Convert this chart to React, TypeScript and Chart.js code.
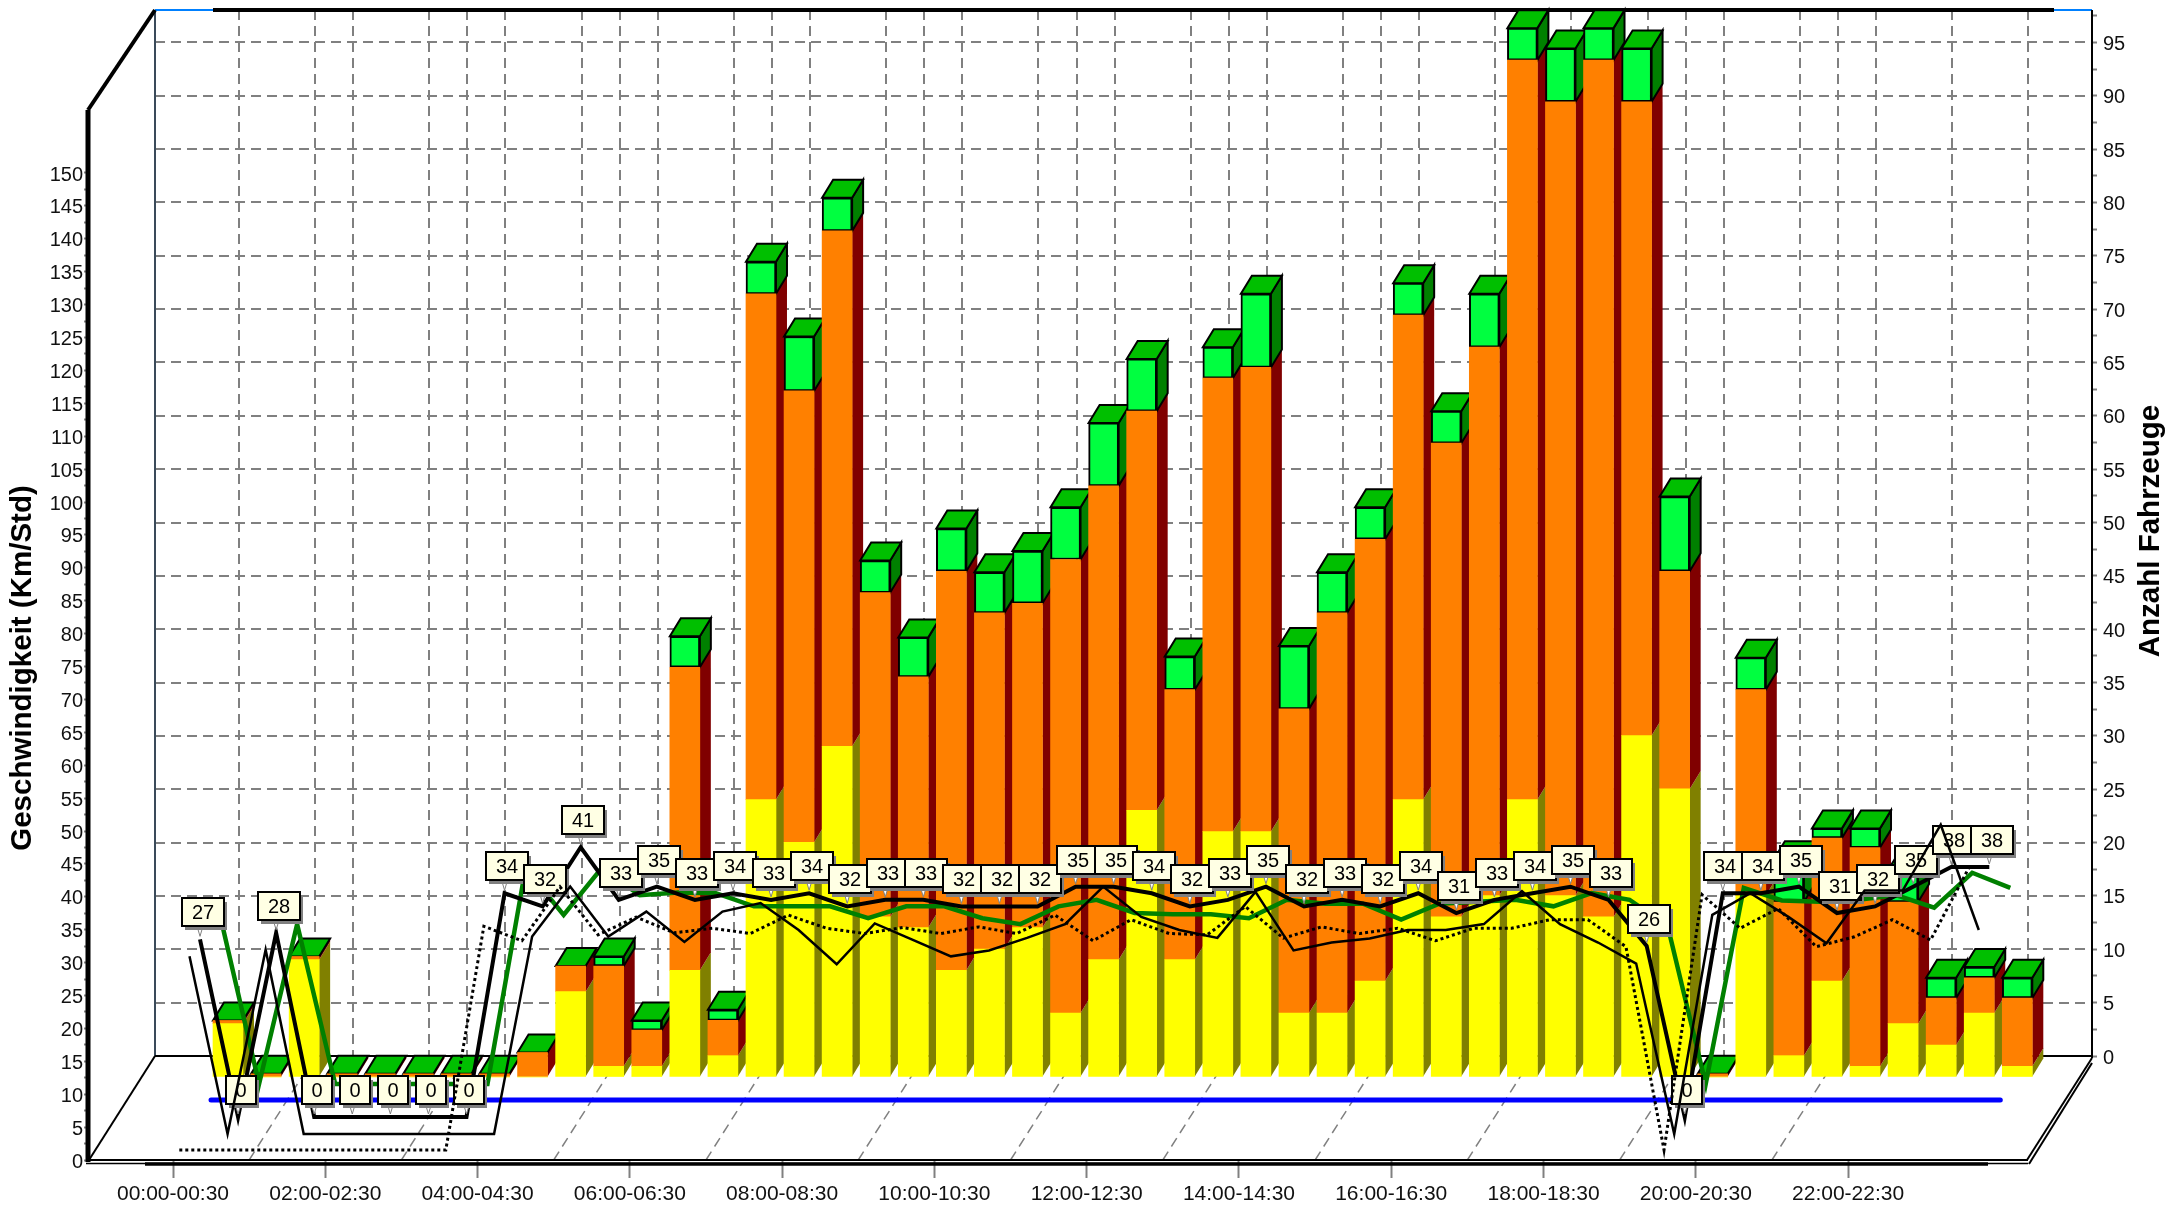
import { useEffect, useRef } from 'react';
import { Chart, registerables, CategoryScale } from 'chart.js';

Chart.register(...registerables);

const timeSlots = [
  '00:00-00:30','00:30-01:00','01:00-01:30','01:30-02:00','02:00-02:30','02:30-03:00','03:00-03:30','03:30-04:00',
  '04:00-04:30','04:30-05:00','05:00-05:30','05:30-06:00','06:00-06:30','06:30-07:00','07:00-07:30','07:30-08:00',
  '08:00-08:30','08:30-09:00','09:00-09:30','09:30-10:00','10:00-10:30','10:30-11:00','11:00-11:30','11:30-12:00',
  '12:00-12:30','12:30-13:00','13:00-13:30','13:30-14:00','14:00-14:30','14:30-15:00','15:00-15:30','15:30-16:00',
  '16:00-16:30','16:30-17:00','17:00-17:30','17:30-18:00','18:00-18:30','18:30-19:00','19:00-19:30','19:30-20:00',
  '20:00-20:30','20:30-21:00','21:00-21:30','21:30-22:00','22:00-22:30','22:30-23:00','23:00-23:30','23:30-24:00',
];
const labelledSlots = [0, 4, 8, 12, 16, 20, 24, 28, 32, 36, 40, 44];
const wallGridSlots = [0,2,3,5,6,7,9,10,11,13,14,15,17,18,19,21,22,23,25,26,27,29,30,31,33,34,35,37,38,39,41,42,43,45,47];
const floorGridSlots = [2,6,10,14,18,22,26,30,34,38,42];

const speedTicks = [
  0,2.5,5,7.5,10,12.5,15,17.5,20,22.5,25,27.5,30,32.5,35,37.5,40,42.5,45,47.5,50,52.5,55,57.5,60,62.5,65,67.5,70,72.5,
  75,77.5,80,82.5,85,87.5,90,92.5,95,97.5,100,102.5,105,107.5,110,112.5,115,117.5,120,122.5,125,127.5,130,132.5,135,137.5,
  140,142.5,145,147.5,150,
];
const countTicks = [
  0,2.5,5,7.5,10,12.5,15,17.5,20,22.5,25,27.5,30,32.5,35,37.5,40,42.5,45,47.5,50,52.5,55,57.5,60,62.5,65,67.5,70,72.5,
  75,77.5,80,82.5,85,87.5,90,92.5,95,97.5,
];
const countGridLines = [5,10,15,20,25,30,35,40,45,50,55,60,65,70,75,80,85,90,95];

// Anzahl Fahrzeuge, stacked
const yellowCounts = [5,0,11,0,0,0,0,0,0,8,1,1,10,2,26,22,31,15,14,10,12,14,6,11,25,11,23,23,6,6,9,26,15,17,26,17,15,32,27,0,17,2,9,1,5,3,6,1];
const orangeCounts = [0.3,0.3,0.3,0.3,0.3,0.3,0.3,0.3,2.3,2.4,9.4,3.4,28.4,3.3,47.4,42.3,48.3,30.4,23.5,37.4,31.5,30.4,42.5,44.4,37.4,25.3,42.5,43.5,28.5,37.5,41.4,45.4,44.4,51.4,69.3,74.4,80.3,59.4,20.4,0.3,19.3,14.4,13.4,20.5,11.4,4.4,3.3,6.4];
const greenCounts = [0,0,0,0,0,0,0,0,0,0,0.9,0.9,2.9,1,3,5.1,3.1,3,3.7,4,3.8,4.9,4.9,5.9,4.9,3.1,2.9,6.9,5.9,3.8,3,3,3,5,3,5,3,5,7,0,3,4,0.9,1.8,3,1.9,1,1.9];

// Geschwindigkeit (Km/Std), four lines and a zero line
const speedLabelled = [27,0,28,0,0,0,0,0,34,32,41,33,35,33,34,33,34,32,33,33,32,32,32,35,35,34,32,33,35,32,33,32,34,31,33,34,35,33,26,0,34,34,35,31,32,35,38,38];
const speedThin = [27,0,28,0,0,0,0,0,0,30,37.6,30,33.8,29.2,33.8,35.1,31,25.8,32,29.5,27,27.9,29.8,31.9,37.6,33,31,29.8,36.8,27.9,29.1,29.7,31,31,31.9,36.9,31.9,29.1,25.9,0,33.3,36.6,33,29,37,37,47,31];
const speedDotted = [0,0,0,0,0,0,0,0,34,31.8,40,32.7,35.4,33,33.7,32.9,35.7,33.7,32.9,33.8,32.9,33.9,32.9,35.7,31.8,35,32.9,32.7,37,32.2,33.9,32.9,33.7,31.8,33.7,33.7,35,35,30.9,0,38.8,33.7,36.7,30.9,32.4,35,31.9,42.8];
const speedGreen = [25,0,24.3,0,0,0,0,0,32.8,25.7,32.8,28.7,29.1,29,27,27,27,25.2,27,27,25.2,24.3,27,28,26,25.8,25.8,25.2,28,27.4,27.4,25,27.4,27.7,28,27,29,28,24,0,29.8,27.9,27.7,28,28.7,26.8,32.1,29.8];
const speedBlue = [0,0,0,0,0,0,0,0,0,0,0,0,0,0,0,0,0,0,0,0,0,0,0,0,0,0,0,0,0,0,0,0,0,0,0,0,0,0,0,0,0,0,0,0,0,0,0,0];

const FONT = '"Liberation Sans", Arial, sans-serif';
const SLOT_W = 38.07;
const FIRST_SLOT_X = 173;
const FRONT_LEFT = 89;
const BACK_RIGHT = 2092;
const WALL_DX = 66;
const FLOOR_FRONT = 1160;
const FLOOR_BACK = 1056;
const TOP = 10;
const SPEED_PX = 6.58;
const COUNT_PX = 10.67;
const BAR_DX = 11;
const BAR_DY = 18;
const GREY = '#808080';

class SlotScale extends CategoryScale {
  static id = 'slot3d';
  static defaults = CategoryScale.defaults;
  buildTicks() {
    const ticks = super.buildTicks();
    (this as any)._startValue = (FRONT_LEFT - FIRST_SLOT_X) / SLOT_W;
    (this as any)._valueRange = (BACK_RIGHT - FRONT_LEFT) / SLOT_W;
    return ticks.filter((t: any) => labelledSlots.includes(t.value));
  }
}
Chart.register(SlotScale as any);

function poly(ctx: CanvasRenderingContext2D, pts: number[][]) {
  ctx.beginPath();
  pts.forEach((p, i) => (i ? ctx.lineTo(p[0], p[1]) : ctx.moveTo(p[0], p[1])));
  ctx.closePath();
}
function seg(ctx: CanvasRenderingContext2D, x1: number, y1: number, x2: number, y2: number, color: string, w: number, dash: number[] = []) {
  ctx.save();
  ctx.strokeStyle = color;
  ctx.lineWidth = w;
  ctx.setLineDash(dash);
  ctx.beginPath();
  ctx.moveTo(x1, y1);
  ctx.lineTo(x2, y2);
  ctx.stroke();
  ctx.restore();
}

const scene3d = {
  id: 'scene3d',
  beforeDatasetsDraw(chart: any) {
    const { ctx } = chart;
    const x = chart.scales.x;
    const yc = chart.scales.yCount;
    // back wall grid
    countGridLines.forEach((v) => {
      const py = Math.round(yc.getPixelForValue(v));
      seg(ctx, FRONT_LEFT + WALL_DX, py, BACK_RIGHT, py, GREY, 2, [10, 6]);
    });
    wallGridSlots.forEach((i) => {
      const px = Math.round(x.getPixelForValue(i) + WALL_DX);
      seg(ctx, px, TOP, px, FLOOR_BACK, GREY, 2, [10, 6]);
    });
    floorGridSlots.forEach((i) => {
      const px = x.getPixelForValue(i);
      seg(ctx, px, FLOOR_FRONT, px + WALL_DX, FLOOR_BACK, GREY, 1.5, [10, 6]);
    });
    // frame
    seg(ctx, 155, TOP, 155, FLOOR_BACK, '#3a4a5a', 2);
    seg(ctx, 155, FLOOR_BACK, BACK_RIGHT, FLOOR_BACK, '#000', 2);
    seg(ctx, FRONT_LEFT, FLOOR_FRONT, 155, FLOOR_BACK, '#000', 2);
    seg(ctx, 155, TOP, BACK_RIGHT, TOP, '#0080ff', 2);
    seg(ctx, 213, TOP, 2054, TOP, '#000', 4);
    seg(ctx, 88, 110, 155, TOP, '#000', 4);
    seg(ctx, 88, 110, 88, 1162, '#000', 5);
    seg(ctx, BACK_RIGHT, TOP, BACK_RIGHT, FLOOR_BACK + 2, '#000', 2);
    seg(ctx, 86, FLOOR_FRONT, 2028, FLOOR_FRONT, '#000', 2);
    seg(ctx, 86, 1163.5, 2028, 1163.5, '#000', 1.5);
    seg(ctx, 145, 1164, 1988, 1164, '#000', 3.5);
    seg(ctx, 2027, FLOOR_FRONT, BACK_RIGHT, FLOOR_BACK + 2, '#000', 2);
    seg(ctx, 2029, 1164, BACK_RIGHT, 1063, '#000', 2);

    // bar side and top faces, behind all bar fronts
    chart.data.datasets.forEach((ds: any, di: number) => {
      if (!ds.sideColor) return;
      const meta = chart.getDatasetMeta(di);
      ctx.save();
      ctx.translate(ds.layer[0], ds.layer[1]);
      meta.data.forEach((bar: any) => {
        const { x: bx, y, base, width } = bar.getProps(['x', 'y', 'base', 'width'], true);
        const l = bx - width / 2;
        const r = bx + width / 2;
        const pts = [[r, base], [r + BAR_DX, base - BAR_DY], [r + BAR_DX, y - BAR_DY], [r, y]];
        ctx.fillStyle = ds.sideColor;
        poly(ctx, pts);
        ctx.fill();
        if (ds.topColor) {
          if (base - y > 0.5) {
            ctx.strokeStyle = '#000';
            ctx.lineWidth = 2;
            ctx.stroke();
          }
          ctx.fillStyle = ds.topColor;
          poly(ctx, [[l, y], [r, y], [r + BAR_DX, y - BAR_DY], [l + BAR_DX, y - BAR_DY]]);
          ctx.fill();
          ctx.strokeStyle = '#000';
          ctx.lineWidth = 2;
          ctx.stroke();
        }
      });
      ctx.restore();
    });
  },
  beforeDatasetDraw(chart: any, args: any) {
    const ds = chart.data.datasets[args.index];
    chart.ctx.save();
    chart.ctx.translate(ds.layer[0], ds.layer[1]);
  },
  afterDatasetDraw(chart: any, args: any) {
    const ds = chart.data.datasets[args.index];
    const ctx = chart.ctx;
    if (ds.valueBoxes) {
      args.meta.data.forEach((pt: any, i: number) => {
        const txt = String(ds.data[i]);
        const w = txt.length > 1 ? 42 : 30;
        const h = 28;
        const left = Math.round(pt.x + 2.5 - w / 2);
        const bottom = Math.round(pt.y - 13);
        ctx.fillStyle = '#fff';
        ctx.strokeStyle = GREY;
        ctx.lineWidth = 1;
        poly(ctx, [[pt.x - 3, bottom], [pt.x + 3, bottom], [pt.x, pt.y - 3]]);
        ctx.fill();
        ctx.stroke();
        ctx.fillStyle = GREY;
        ctx.fillRect(left + 3, bottom - h + 4, w, h);
        ctx.fillStyle = '#ffffe4';
        ctx.fillRect(left, bottom - h, w, h);
        ctx.strokeStyle = '#000';
        ctx.lineWidth = 2;
        ctx.strokeRect(left, bottom - h, w, h);
        ctx.fillStyle = '#000';
        ctx.font = `20px ${FONT}`;
        ctx.textAlign = 'center';
        ctx.textBaseline = 'middle';
        ctx.fillText(txt, left + w / 2, bottom - h / 2 + 1);
      });
    }
    ctx.restore();
  },
  afterDraw(chart: any) {
    const { ctx } = chart;
    const title = (text: string, x: number, y: number) => {
      ctx.save();
      ctx.translate(x, y);
      ctx.rotate(-Math.PI / 2);
      ctx.fillStyle = '#000';
      ctx.font = `bold 29.5px ${FONT}`;
      ctx.textAlign = 'center';
      ctx.textBaseline = 'middle';
      ctx.fillText(text, 0, 0);
      ctx.restore();
    };
    title('Geschwindigkeit (Km/Std)', 23, 668);
    title('Anzahl Fahrzeuge', 2151, 531);
  },
};

export default function App() {
  const ref = useRef<HTMLCanvasElement>(null);
  useEffect(() => {
    const barLayer = [55, 21];
    const lineBase = { type: 'line', yAxisID: 'ySpeed', pointRadius: 0, tension: 0, fill: false, clip: false };
    const barBase = { type: 'bar', yAxisID: 'yCount', barThickness: 30, borderSkipped: false, clip: false, layer: barLayer, stack: 'cars' };
    const noPad = (s: any) => { s.paddingTop = 0; s.paddingBottom = 0; s.paddingLeft = 0; s.paddingRight = 0; };
    const chart = new Chart(ref.current!, {
      data: {
        labels: timeSlots,
        datasets: [
          { ...barBase, label: 'yellow', data: yellowCounts, backgroundColor: '#ffff00', borderWidth: 0, sideColor: '#808000', order: 6 },
          { ...barBase, label: 'orange', data: orangeCounts, backgroundColor: '#ff8000', borderWidth: 0, sideColor: '#800000', order: 7 },
          { ...barBase, label: 'green', data: greenCounts, backgroundColor: '#00ff40', borderColor: '#000', borderWidth: 2, sideColor: '#008000', topColor: '#00bf00', order: 8 },
          { ...lineBase, label: 'speed green', data: speedGreen, borderColor: '#008000', borderWidth: 4.5, layer: [48, -76], order: 5 },
          { ...lineBase, label: 'zero', data: speedBlue, borderColor: '#0000ff', borderWidth: 5, borderCapStyle: 'round', layer: [38, -60], order: 4 },
          { ...lineBase, label: 'speed', data: speedLabelled, borderColor: '#000', borderWidth: 4, layer: [27, -43], valueBoxes: true, order: 3 },
          { ...lineBase, label: 'speed thin', data: speedThin, borderColor: '#000', borderWidth: 2.5, layer: [16.5, -26], order: 2 },
          { ...lineBase, label: 'speed dotted', data: speedDotted, borderColor: '#000', borderWidth: 3, borderDash: [3, 3], layer: [6.3, -10], order: 1 },
        ],
      } as any,
      options: {
        responsive: false,
        animation: false,
        events: [],
        layout: { padding: { top: TOP, left: 0, right: 0, bottom: 0 } },
        plugins: { legend: { display: false }, tooltip: { enabled: false }, title: { display: false } },
        scales: {
          x: {
            type: 'slot3d',
            offset: false,
            stacked: true,
            border: { display: false },
            grid: { display: true, drawOnChartArea: false, drawTicks: true, tickLength: 18, tickWidth: 2, tickColor: GREY, offset: false },
            ticks: { autoSkip: false, maxRotation: 0, minRotation: 0, padding: 4, color: '#111', font: { family: FONT, size: 21 } },
            afterFit: (s: any) => { s.height = 1215 - FLOOR_FRONT; noPad(s); },
          },
          ySpeed: {
            type: 'linear',
            position: 'left',
            min: 0,
            max: (FLOOR_FRONT - TOP) / SPEED_PX,
            border: { display: false },
            grid: { display: true, drawOnChartArea: false, drawTicks: true, tickLength: 5, tickWidth: 2, tickColor: GREY },
            ticks: { autoSkip: false, padding: 1, labelOffset: 2, color: '#111', font: { family: FONT, size: 20 }, callback: (v: any) => (v % 5 === 0 ? String(v) : '') },
            afterBuildTicks: (s: any) => { s.ticks = speedTicks.map((value) => ({ value })); },
            afterFit: (s: any) => { s.width = FRONT_LEFT; noPad(s); },
          },
          yCount: {
            type: 'linear',
            position: 'right',
            stacked: true,
            min: -(FLOOR_FRONT - FLOOR_BACK) / COUNT_PX,
            max: (FLOOR_BACK - TOP) / COUNT_PX,
            border: { display: false },
            grid: { display: true, drawOnChartArea: false, drawTicks: true, tickLength: 5, tickWidth: 2, tickColor: GREY },
            ticks: { autoSkip: false, padding: 6, labelOffset: 2, color: '#111', font: { family: FONT, size: 20 }, callback: (v: any) => (v % 5 === 0 ? String(v) : '') },
            afterBuildTicks: (s: any) => { s.ticks = countTicks.map((value) => ({ value })); },
            afterFit: (s: any) => { s.width = 2179 - BACK_RIGHT; noPad(s); },
          },
        },
      } as any,
      plugins: [scene3d],
    } as any);
    return () => chart.destroy();
  }, []);
  return (
    <canvas
      ref={ref}
      width={2179}
      height={1215}
      style={{ position: 'fixed', left: 0, top: 0, display: 'block', width: 2179, height: 1215 }}
    />
  );
}
